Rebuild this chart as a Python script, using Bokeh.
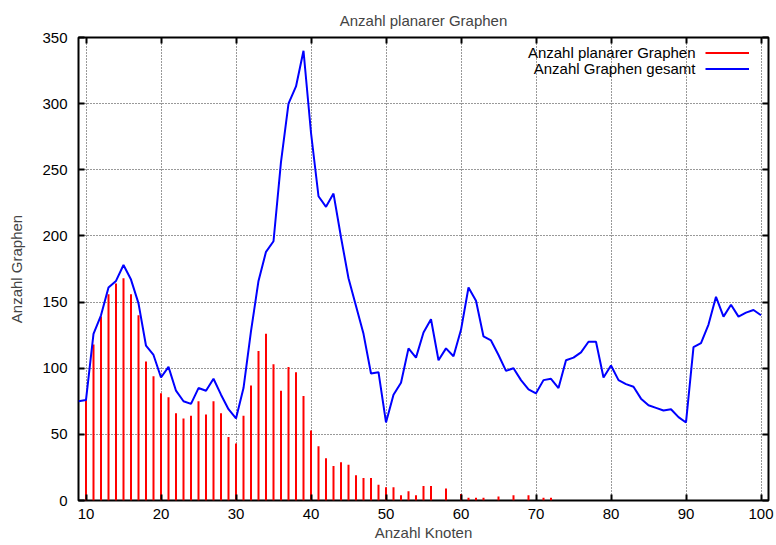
from bokeh.plotting import figure
from bokeh.models import (Range1d, FixedTicker, LinearAxis, Legend, LegendItem, Label)
from bokeh.embed import file_html
from bokeh.resources import INLINE

# ---------------- data ----------------
title_text = "Anzahl planarer Graphen"
x_label = "Anzahl Knoten"
y_label = "Anzahl Graphen"
series_planar = "Anzahl planarer Graphen"
series_total = "Anzahl Graphen gesamt"

x_ticks = [10, 20, 30, 40, 50, 60, 70, 80, 90, 100]
y_ticks = [0, 50, 100, 150, 200, 250, 300, 350]

nodes_planar = list(range(10, 73))
planar = [77, 118, 139, 156, 164, 168, 156, 140, 105, 94,
          81, 78, 66, 62, 64, 75, 65, 75, 66, 48,
          43, 64, 87, 113, 126, 103, 83, 101, 97, 79,
          53, 41, 32, 26, 29, 27, 19, 17, 17, 12,
          10, 10, 4, 7, 4, 11, 11, 0, 9, 0,
          5, 2, 2, 2, 0, 3, 0, 4, 0, 4,
          0, 2, 2]

nodes_total = list(range(9, 101))
total = [75, 76, 126, 140, 161, 166, 178, 167, 149, 117,
         110, 93, 101, 83, 75, 73, 85, 83, 92, 80,
         69, 62, 85, 128, 166, 188, 196, 256, 300, 313,
         340, 278, 230, 222, 232, 199, 168, 147, 126, 96,
         97, 59, 80, 89, 115, 108, 127, 137, 106, 115,
         109, 129, 161, 151, 124, 121, 110, 98, 100, 91,
         84, 81, 91, 92, 85, 106, 108, 112, 120, 120,
         93, 102, 91, 88, 86, 77, 72, 70, 68, 69,
         63, 59, 116, 119, 133, 154, 139, 148, 139, 142,
         144, 140]

FONT = "Liberation Sans"
FS = "15px"

p = figure(width=776, height=545, x_range=Range1d(9, 101), y_range=Range1d(0, 350),
           output_backend="svg", toolbar_location=None,
           min_border_left=78, min_border_right=8, min_border_top=37, min_border_bottom=45)

p.title.text = title_text
p.title.align = "center"
p.title.text_font = FONT
p.title.text_font_size = FS
p.title.text_font_style = "normal"
p.title.standoff = 18

p.outline_line_color = "black"
p.outline_line_width = 2
p.outline_line_alpha = 1

def style_axis(ax, labels=True):
    ax.axis_line_color = None
    ax.major_tick_in = 6
    ax.major_tick_out = 0
    ax.major_tick_line_width = 2
    ax.major_tick_line_color = "black"
    ax.minor_tick_line_color = None
    ax.major_label_text_font = FONT
    if labels:
        ax.major_label_text_font_size = FS
        ax.major_label_text_color = "black"
    else:
        ax.major_label_text_font_size = "0px"
        ax.major_label_text_color = None
    ax.axis_label_text_font = FONT
    ax.axis_label_text_font_size = FS
    ax.axis_label_text_font_style = "normal"

p.xaxis.ticker = FixedTicker(ticks=x_ticks)
p.yaxis.ticker = FixedTicker(ticks=y_ticks)
style_axis(p.xaxis[0])
style_axis(p.yaxis[0])
p.xaxis.axis_label = x_label
p.yaxis.axis_label = y_label
p.xaxis.major_label_standoff = 8
p.yaxis.major_label_standoff = 11
p.xaxis.axis_label_standoff = 2
p.yaxis.axis_label_standoff = 14

top_ax = LinearAxis(ticker=FixedTicker(ticks=x_ticks))
style_axis(top_ax, labels=False)
top_ax.major_label_standoff = 0
right_ax = LinearAxis(ticker=FixedTicker(ticks=y_ticks))
style_axis(right_ax, labels=False)
right_ax.major_label_standoff = 0
p.add_layout(top_ax, "above")
p.add_layout(right_ax, "right")

for g in (p.xgrid[0], p.ygrid[0]):
    g.grid_line_color = "black"
    g.grid_line_dash = "1 2"
    g.grid_line_width = 1
    g.grid_line_alpha = 0.8

r_planar = p.segment(x0=nodes_planar, y0=[0] * len(planar), x1=nodes_planar, y1=planar,
                     line_color="#ff0000", line_width=2)
r_total = p.line(nodes_total, total, line_color="#0000ff", line_width=2)

legend = Legend(items=[LegendItem(label=" ", renderers=[r_planar]),
                       LegendItem(label=" ", renderers=[r_total])],
                location=(627, 424), orientation="vertical",
                padding=0, margin=0, spacing=1, glyph_width=44, glyph_height=15,
                label_height=15, label_width=0, label_standoff=0,
                label_text_font_size="1px", label_text_color=None,
                border_line_color=None, background_fill_alpha=0)
p.add_layout(legend, "center")

for txt, yy in ((series_planar, 448), (series_total, 432)):
    p.add_layout(Label(x=617, y=yy, x_units="screen", y_units="screen", text=txt,
                       text_align="right", text_baseline="middle",
                       text_font=FONT, text_font_size=FS, text_color="black"))

open("out.html", "w").write(file_html(p, INLINE))
